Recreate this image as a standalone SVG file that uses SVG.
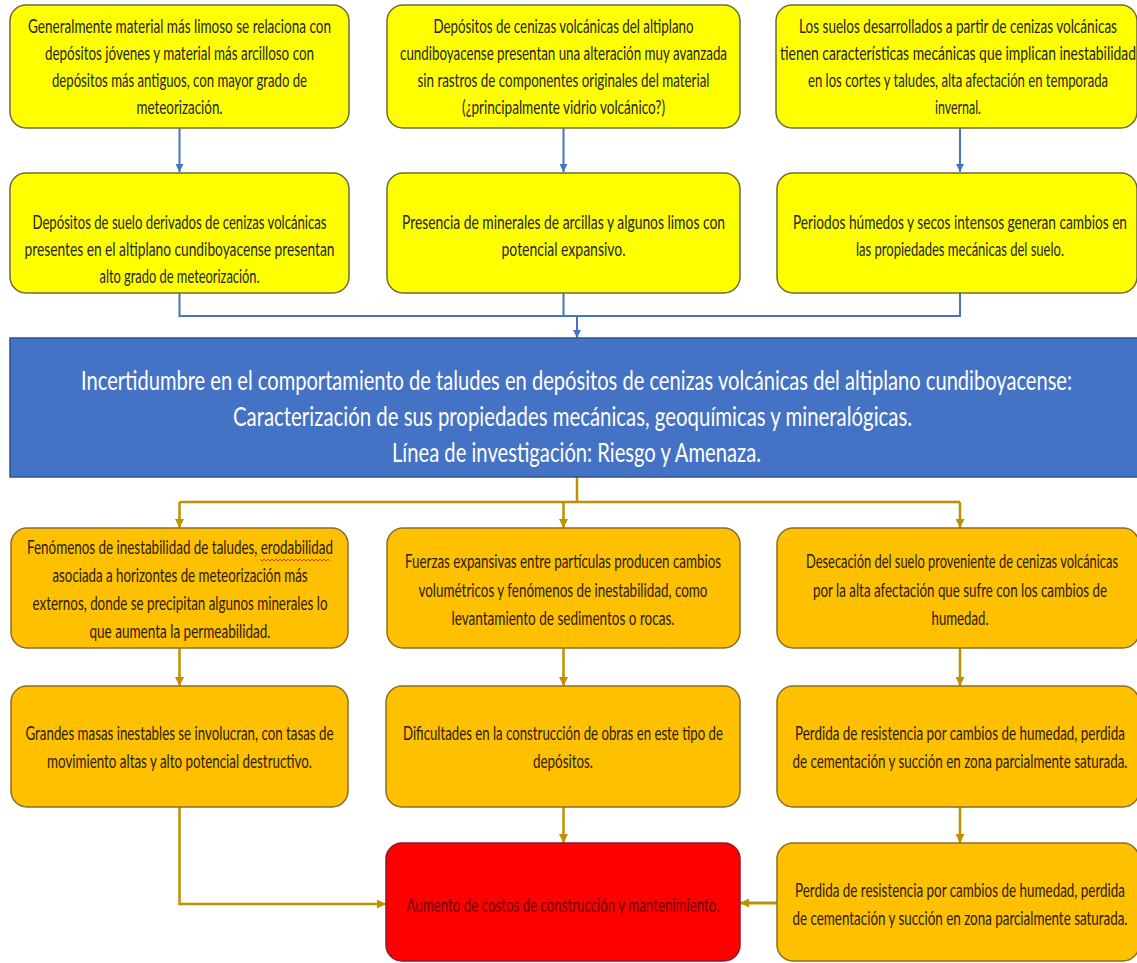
<svg xmlns="http://www.w3.org/2000/svg" width="1137" height="963" viewBox="0 0 1137 963">
<defs>
<style>
.y{fill:#FFFF00;stroke:#6b6b3a;stroke-width:1.5}
.o{fill:#FFC000;stroke:#8a6d2a;stroke-width:1.5}
.r{fill:#FF0000;stroke:#8b1a2b;stroke-width:1.5}
.b{fill:#4472C4;stroke:#2f528f;stroke-width:1.5}
text{font-family:Lato,"Liberation Sans","DejaVu Sans",sans-serif;text-anchor:middle}
.t{font-size:20px;fill:#262626}
.to{font-size:20px;fill:#2b2000}
.tr{font-size:20px;fill:#6b0000}
.tb{font-size:27px;fill:#ffffff}
.cb{fill:none;stroke:#4472C4;stroke-width:2}
.co{fill:none;stroke:#BF9000;stroke-width:2.5}
</style>
<marker id="ab" viewBox="0 0 10 10" refX="10" refY="5" markerWidth="8" markerHeight="8" markerUnits="userSpaceOnUse" orient="auto"><path d="M0,0 L10,5 L0,10 z" fill="#4472C4"/></marker>
<marker id="ao" viewBox="0 0 10 10" refX="10" refY="5" markerWidth="9" markerHeight="9" markerUnits="userSpaceOnUse" orient="auto"><path d="M0,0 L10,5 L0,10 z" fill="#BF9000"/></marker>
</defs>
<rect width="1137" height="963" fill="#ffffff"/>

<g id="connectors">
<path class="cb" d="M179.5 128 V172" marker-end="url(#ab)"/>
<path class="cb" d="M563.5 128 V172" marker-end="url(#ab)"/>
<path class="cb" d="M960 128 V172" marker-end="url(#ab)"/>
<path class="cb" d="M179.5 293 V316 H960 V293"/>
<path class="cb" d="M563.5 293 V316"/>
<path class="cb" d="M577 316 V338" marker-end="url(#ab)"/>
<path class="co" d="M577 477 V502"/>
<path class="co" d="M179.5 502 H960"/>
<path class="co" d="M179.5 502 V528" marker-end="url(#ao)"/>
<path class="co" d="M563.5 502 V528" marker-end="url(#ao)"/>
<path class="co" d="M960 502 V528" marker-end="url(#ao)"/>
<path class="co" d="M179.5 648 V686" marker-end="url(#ao)"/>
<path class="co" d="M563.5 648 V686" marker-end="url(#ao)"/>
<path class="co" d="M960 648 V686" marker-end="url(#ao)"/>
<path class="co" d="M179.5 807 V904 H386" marker-end="url(#ao)"/>
<path class="co" d="M563.5 807 V843" marker-end="url(#ao)"/>
<path class="co" d="M960 807 V843" marker-end="url(#ao)"/>
<path class="co" style="stroke-width:3" d="M777 903 H740" marker-end="url(#ao)"/>
</g>

<g id="n1">
<rect class="y" x="10" y="5" width="339" height="123" rx="16"/>
<g transform="translate(179.5,0) scale(0.62,1)">
<text class="t" x="0" y="33" textLength="488.7" lengthAdjust="spacingAndGlyphs">Generalmente material más limoso se relaciona con</text>
<text class="t" x="0" y="60" textLength="433.9" lengthAdjust="spacingAndGlyphs">depósitos jóvenes y material más arcilloso con</text>
<text class="t" x="0" y="87" textLength="411.3" lengthAdjust="spacingAndGlyphs">depósitos más antiguos, con mayor grado de</text>
<text class="t" x="0" y="114" textLength="138.7" lengthAdjust="spacingAndGlyphs">meteorización.</text>
</g>
</g>
<g id="n2">
<rect class="y" x="387" y="5" width="353" height="123" rx="16"/>
<g transform="translate(563.5,0) scale(0.62,1)">
<text class="t" x="0" y="33" textLength="419.4" lengthAdjust="spacingAndGlyphs">Depósitos de cenizas volcánicas del altiplano</text>
<text class="t" x="0" y="60" textLength="527.4" lengthAdjust="spacingAndGlyphs">cundiboyacense presentan una alteración muy avanzada</text>
<text class="t" x="0" y="87" textLength="471" lengthAdjust="spacingAndGlyphs">sin rastros de componentes originales del material</text>
<text class="t" x="0" y="114" textLength="327.4" lengthAdjust="spacingAndGlyphs">(¿principalmente vidrio volcánico?)</text>
</g>
</g>
<g id="n3">
<rect class="y" x="776" y="5" width="361" height="123" rx="16"/>
<g transform="translate(958,0) scale(0.62,1)">
<text class="t" x="0" y="33" textLength="512.9" lengthAdjust="spacingAndGlyphs">Los suelos desarrollados a partir de cenizas volcánicas</text>
<text class="t" x="0" y="60" textLength="574.2" lengthAdjust="spacingAndGlyphs">tienen características mecánicas que implican inestabilidad</text>
<text class="t" x="0" y="87" textLength="483.9" lengthAdjust="spacingAndGlyphs">en los cortes y taludes, alta afectación en temporada</text>
<text class="t" x="0" y="114" textLength="74.2" lengthAdjust="spacingAndGlyphs">invernal.</text>
</g>
</g>

<g id="n4">
<rect class="y" x="10" y="173" width="339" height="120" rx="16"/>
<g transform="translate(179.5,0) scale(0.62,1)">
<text class="t" x="0" y="229" textLength="474.2" lengthAdjust="spacingAndGlyphs">Depósitos de suelo derivados de cenizas volcánicas</text>
<text class="t" x="0" y="256" textLength="500" lengthAdjust="spacingAndGlyphs">presentes en el altiplano cundiboyacense presentan</text>
<text class="t" x="0" y="283" textLength="258.1" lengthAdjust="spacingAndGlyphs">alto grado de meteorización.</text>
</g>
</g>
<g id="n5">
<rect class="y" x="387" y="173" width="353" height="120" rx="16"/>
<g transform="translate(563.5,0) scale(0.62,1)">
<text class="t" x="0" y="229" textLength="521" lengthAdjust="spacingAndGlyphs">Presencia de minerales de arcillas y algunos limos con</text>
<text class="t" x="0" y="256" textLength="200" lengthAdjust="spacingAndGlyphs">potencial expansivo.</text>
</g>
</g>
<g id="n6">
<rect class="y" x="777" y="173" width="360" height="120" rx="16"/>
<g transform="translate(960,0) scale(0.62,1)">
<text class="t" x="0" y="229" textLength="538.7" lengthAdjust="spacingAndGlyphs">Periodos húmedos y secos intensos generan cambios en</text>
<text class="t" x="0" y="256" textLength="335.5" lengthAdjust="spacingAndGlyphs">las propiedades mecánicas del suelo.</text>
</g>
</g>

<g id="n7">
<rect class="b" x="10" y="338" width="1135" height="139"/>
<g transform="translate(576.5,0) scale(0.69,1)">
<text class="tb" x="0" y="390" textLength="1436.2" lengthAdjust="spacingAndGlyphs">Incertidumbre en el comportamiento de taludes en depósitos de cenizas volcánicas del altiplano cundiboyacense:</text>
<text class="tb" x="-5.8" y="426" textLength="984.1" lengthAdjust="spacingAndGlyphs">Caracterización de sus propiedades mecánicas, geoquímicas y mineralógicas.</text>
<text class="tb" x="0" y="462" textLength="534.8" lengthAdjust="spacingAndGlyphs">Línea de investigación: Riesgo y Amenaza.</text>
</g>
</g>

<g id="n8">
<rect class="o" x="11" y="528" width="337" height="120" rx="16"/>
<g transform="translate(180,0) scale(0.62,1)">
<text class="to" x="0" y="554" textLength="493.5" lengthAdjust="spacingAndGlyphs">Fenómenos de inestabilidad de taludes, erodabilidad</text>
<text class="to" x="0" y="582" textLength="411.3" lengthAdjust="spacingAndGlyphs">asociada a horizontes de meteorización más</text>
<text class="to" x="0" y="610" textLength="475.8" lengthAdjust="spacingAndGlyphs">externos, donde se precipitan algunos minerales lo</text>
<text class="to" x="0" y="638" textLength="291.9" lengthAdjust="spacingAndGlyphs">que aumenta la permeabilidad.</text>
</g>
<path d="M260 559 l2 2 l2 -2 l2 2 l2 -2 l2 2 l2 -2 l2 2 l2 -2 l2 2 l2 -2 l2 2 l2 -2 l2 2 l2 -2 l2 2 l2 -2 l2 2 l2 -2 l2 2 l2 -2 l2 2 l2 -2 l2 2 l2 -2 l2 2 l2 -2 l2 2 l2 -2 l2 2 l2 -2 l2 2 l2 -2 l2 2 l2 -2 l2 2" fill="none" stroke="#e02020" stroke-width="0.8"/>
</g>
<g id="n9">
<rect class="o" x="387" y="528" width="353" height="120" rx="16"/>
<g transform="translate(563,0) scale(0.62,1)">
<text class="to" x="0" y="568" textLength="509.7" lengthAdjust="spacingAndGlyphs">Fuerzas expansivas entre partículas producen cambios</text>
<text class="to" x="0" y="597" textLength="466.1" lengthAdjust="spacingAndGlyphs">volumétricos y fenómenos de inestabilidad, como</text>
<text class="to" x="0" y="625" textLength="359.7" lengthAdjust="spacingAndGlyphs">levantamiento de sedimentos o rocas.</text>
</g>
</g>
<g id="n10">
<rect class="o" x="777" y="528" width="362" height="120" rx="16"/>
<g transform="translate(960,0) scale(0.62,1)">
<text class="to" x="3.2" y="568" textLength="503.2" lengthAdjust="spacingAndGlyphs">Desecación del suelo proveniente de cenizas volcánicas</text>
<text class="to" x="0" y="597" textLength="474.2" lengthAdjust="spacingAndGlyphs">por la alta afectación que sufre con los cambios de</text>
<text class="to" x="0" y="625" textLength="91.9" lengthAdjust="spacingAndGlyphs">humedad.</text>
</g>
</g>

<g id="n11">
<rect class="o" x="11" y="686" width="337" height="121" rx="16"/>
<g transform="translate(179.5,0) scale(0.62,1)">
<text class="to" x="0" y="740" textLength="496.8" lengthAdjust="spacingAndGlyphs">Grandes masas inestables se involucran, con tasas de</text>
<text class="to" x="0" y="768" textLength="427.4" lengthAdjust="spacingAndGlyphs">movimiento altas y alto potencial destructivo.</text>
</g>
</g>
<g id="n12">
<rect class="o" x="386" y="686" width="354" height="121" rx="16"/>
<g transform="translate(563,0) scale(0.62,1)">
<text class="to" x="0" y="740" textLength="516.1" lengthAdjust="spacingAndGlyphs">Dificultades en la construcción de obras en este tipo de</text>
<text class="to" x="0" y="768" textLength="96.8" lengthAdjust="spacingAndGlyphs">depósitos.</text>
</g>
</g>
<g id="n13">
<rect class="o" x="777" y="686" width="362" height="121" rx="16"/>
<g transform="translate(960,0) scale(0.62,1)">
<text class="to" x="0" y="740" textLength="532.3" lengthAdjust="spacingAndGlyphs">Perdida de resistencia por cambios de humedad, perdida</text>
<text class="to" x="0" y="768" textLength="540.3" lengthAdjust="spacingAndGlyphs">de cementación y succión en zona parcialmente saturada.</text>
</g>
</g>

<g id="n14">
<rect class="r" x="386" y="843" width="354" height="118" rx="16"/>
<g transform="translate(563,0) scale(0.62,1)">
<text class="tr" x="0" y="912" textLength="504.8" lengthAdjust="spacingAndGlyphs">Aumento de costos de construcción y mantenimiento.</text>
</g>
</g>
<g id="n15">
<rect class="o" x="777" y="843" width="362" height="118" rx="16"/>
<g transform="translate(960,0) scale(0.62,1)">
<text class="to" x="0" y="897" textLength="532.3" lengthAdjust="spacingAndGlyphs">Perdida de resistencia por cambios de humedad, perdida</text>
<text class="to" x="0" y="925" textLength="540.3" lengthAdjust="spacingAndGlyphs">de cementación y succión en zona parcialmente saturada.</text>
</g>
</g>
</svg>
